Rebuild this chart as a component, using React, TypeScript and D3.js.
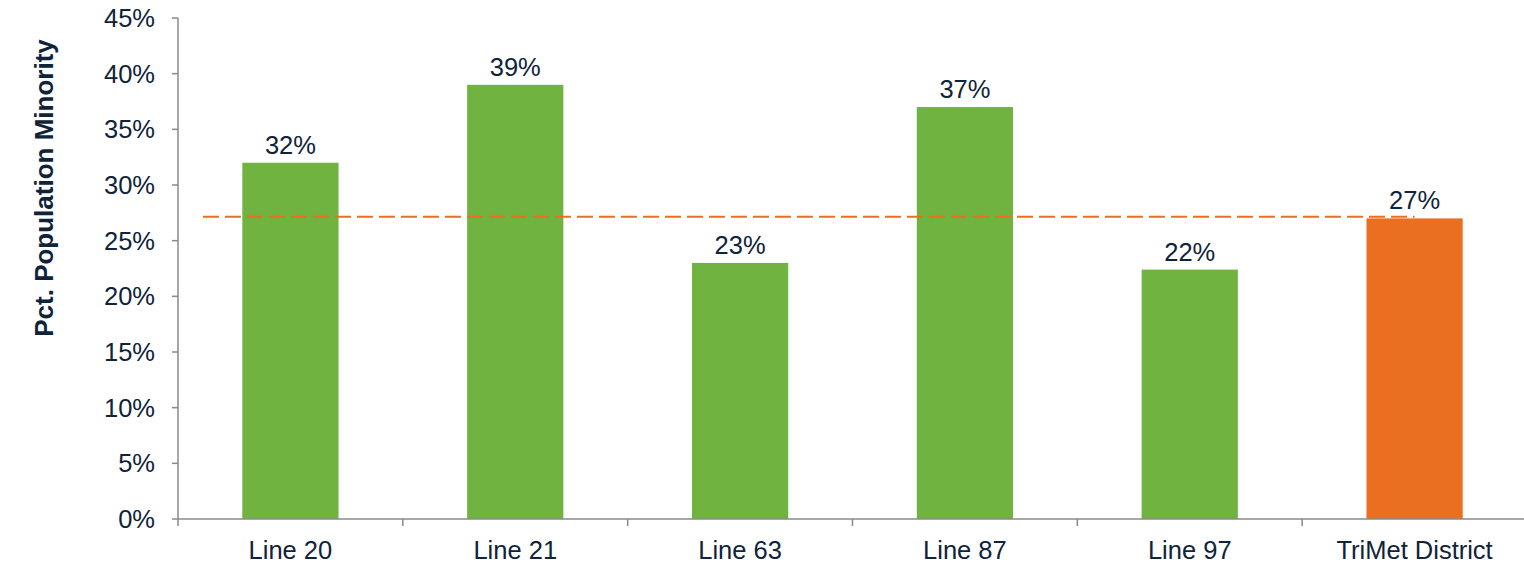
import React from 'react';
import * as d3 from 'd3';

const categories = ['Line 20', 'Line 21', 'Line 63', 'Line 87', 'Line 97', 'TriMet District'];
const values = [32, 39, 23, 37, 22.4, 27];
const valueLabels = ['32%', '39%', '23%', '37%', '22%', '27%'];
const yTicks = [0, 5, 10, 15, 20, 25, 30, 35, 40, 45];
const districtValue = 27.15;

const W = 1524;
const H = 565;
const left = 178;
const right = 1527;
const top = 18;
const bottom = 519;

const textColor = '#0f2339';
const axisColor = '#8a8a8a';
const green = '#70b340';
const orange = '#ea6f21';
const font = 'Arial, "Liberation Sans", sans-serif';

const App = () => {
  const x = d3
    .scaleBand<string>()
    .domain(categories)
    .range([left, right])
    .paddingInner(0.572)
    .paddingOuter(0.286);
  const y = d3.scaleLinear().domain([0, 45]).range([bottom, top]);
  const step = x.step();
  const last = categories[categories.length - 1];

  // boundaries between categories for x ticks
  const bounds = d3.range(categories.length + 1).map(i => left + i * step);

  const lineX1 = left + step * 0.111;
  const lineX2 = (x(last) || 0) + x.bandwidth() / 2;

  return (
    <svg
      width={W}
      height={H}
      style={{ position: 'absolute', left: 0, top: 0, background: '#fff' }}
      fontFamily={font}>
      {/* bars */}
      {categories.map((c, i) => (
        <rect
          key={c}
          x={x(c)}
          y={y(values[i])}
          width={x.bandwidth()}
          height={bottom - y(values[i])}
          fill={c === last ? orange : green}
        />
      ))}

      {/* district average line */}
      <line
        x1={lineX1}
        x2={lineX2}
        y1={y(districtValue)}
        y2={y(districtValue)}
        stroke={orange}
        strokeWidth={2.2}
        strokeDasharray="16,6"
      />

      {/* value labels */}
      {categories.map((c, i) => (
        <text
          key={'lbl' + c}
          x={(x(c) || 0) + x.bandwidth() / 2}
          y={y(values[i]) - 9}
          textAnchor="middle"
          fontSize={25.5}
          fill={textColor}>
          {valueLabels[i]}
        </text>
      ))}

      {/* y axis */}
      <line x1={left} x2={left} y1={top} y2={bottom} stroke={axisColor} strokeWidth={1.5} />
      {yTicks.map(t => (
        <g key={'yt' + t}>
          <line x1={left - 6} x2={left} y1={y(t)} y2={y(t)} stroke={axisColor} strokeWidth={1.5} />
          <text
            x={left - 23}
            y={y(t)}
            dy="0.35em"
            textAnchor="end"
            fontSize={25.5}
            fill={textColor}>
            {t + '%'}
          </text>
        </g>
      ))}

      {/* x axis */}
      <line x1={left} x2={right} y1={bottom} y2={bottom} stroke={axisColor} strokeWidth={1.5} />
      {bounds.map((b, i) => (
        <line key={'xt' + i} x1={b} x2={b} y1={bottom} y2={bottom + 7} stroke={axisColor} strokeWidth={1.5} />
      ))}
      {categories.map(c => (
        <text
          key={'xl' + c}
          x={(x(c) || 0) + x.bandwidth() / 2}
          y={bottom + 40}
          textAnchor="middle"
          fontSize={25.5}
          fill={textColor}>
          {c}
        </text>
      ))}

      {/* y axis title */}
      <text
        transform={`translate(53, ${188}) rotate(-90)`}
        textAnchor="middle"
        fontSize={26}
        fontWeight="bold"
        fill={textColor}>
        Pct. Population Minority
      </text>
    </svg>
  );
};

export default App;
